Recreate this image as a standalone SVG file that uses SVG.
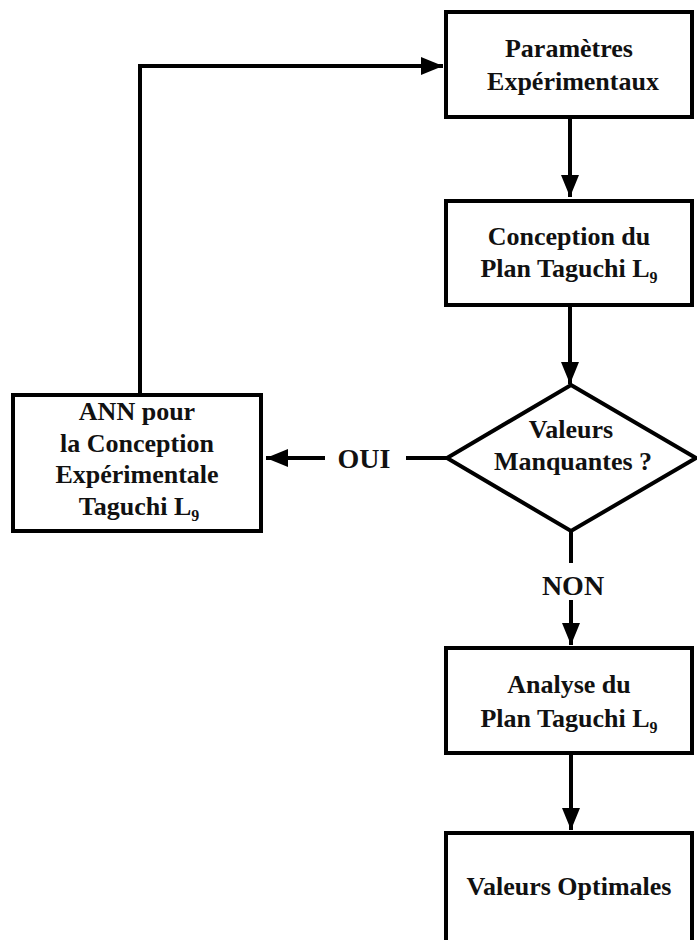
<svg xmlns="http://www.w3.org/2000/svg" width="697" height="940" viewBox="0 0 697 940">
  <style>
    .box { fill: #ffffff; stroke: #000000; stroke-width: 4; }
    .link { fill: none; stroke: #000000; stroke-width: 4; }
    .lbl { font-family: "Liberation Serif", "Times New Roman", serif; font-weight: bold; font-size: 26px; fill: #111111; text-anchor: middle; }
    .tag { font-family: "Liberation Serif", "Times New Roman", serif; font-weight: bold; font-size: 28px; fill: #111111; text-anchor: middle; }
    .sub { font-size: 16px; }
  </style>
  <defs>
    <marker id="arrow" markerUnits="userSpaceOnUse" markerWidth="24" markerHeight="20" viewBox="0 0 24 20" refX="22" refY="10" orient="auto">
      <path d="M0,1 L22,10 L0,19 Z" fill="#000000"/>
    </marker>
  </defs>

  <rect width="697" height="940" fill="#ffffff"/>

  <!-- connectors -->
  <g id="connectors">
    <path class="link" d="M570,119 V197" marker-end="url(#arrow)"/>
    <path class="link" d="M570,307 V384" marker-end="url(#arrow)"/>
    <path class="link" d="M571,531 V563"/>
    <path class="link" d="M571,600 V645" marker-end="url(#arrow)"/>
    <path class="link" d="M571,755 V830" marker-end="url(#arrow)"/>
    <path class="link" d="M447,458 H406"/>
    <path class="link" d="M325,458 H266" marker-end="url(#arrow)"/>
    <path class="link" d="M140,393 V66 H443" marker-end="url(#arrow)"/>
    <text class="tag" x="364" y="468">OUI</text>
    <text class="tag" x="573" y="595">NON</text>
  </g>

  <!-- nodes -->
  <g id="params">
    <rect class="box" x="446" y="12" width="246" height="105"/>
    <text class="lbl" x="569" y="57">Paramètres</text>
    <text class="lbl" x="573" y="90">Expérimentaux</text>
  </g>

  <g id="design">
    <rect class="box" x="446" y="201" width="246" height="104"/>
    <text class="lbl" x="569" y="245">Conception du</text>
    <text class="lbl" x="569" y="277">Plan Taguchi L<tspan class="sub" dy="6">9</tspan></text>
  </g>

  <g id="missing">
    <polygon class="box" points="571,385 696,458 571,531 447,458"/>
    <text class="lbl" x="571" y="438">Valeurs</text>
    <text class="lbl" x="573" y="470">Manquantes ?</text>
  </g>

  <g id="ann">
    <rect class="box" x="13" y="395" width="248" height="136"/>
    <text class="lbl" x="137" y="420">ANN pour</text>
    <text class="lbl" x="137" y="452">la Conception</text>
    <text class="lbl" x="137" y="483">Expérimentale</text>
    <text class="lbl" x="139" y="515">Taguchi L<tspan class="sub" dy="6">9</tspan></text>
  </g>

  <g id="analysis">
    <rect class="box" x="446" y="648" width="246" height="105"/>
    <text class="lbl" x="569" y="693">Analyse du</text>
    <text class="lbl" x="569" y="727">Plan Taguchi L<tspan class="sub" dy="6">9</tspan></text>
  </g>

  <g id="optimum">
    <rect class="box" x="446" y="833" width="246" height="130"/>
    <text class="lbl" x="569" y="895">Valeurs Optimales</text>
  </g>
</svg>
